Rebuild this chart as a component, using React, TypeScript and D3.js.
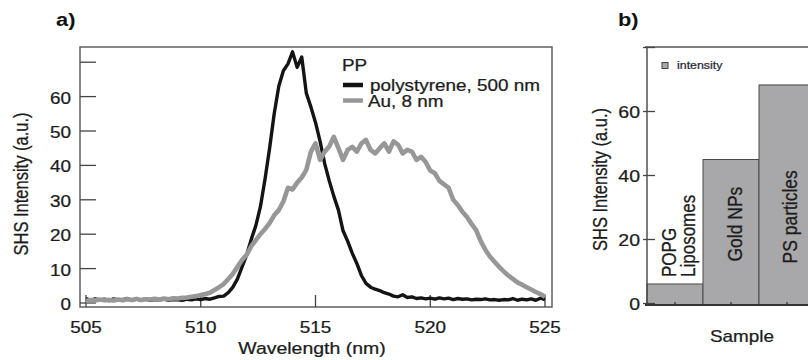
import * as d3 from "d3";

// ---- panel a data: SHS spectra ----
const wavelengths = d3.range(0, 101).map(i => 505 + i * 0.2);

const polystyrene = [
  1.3, 0.8, 1.2, 0.9, 1.1, 0.7, 1.2, 0.9, 1.0, 1.3,
  0.8, 1.1, 0.9, 1.2, 0.8, 1.0, 0.9, 1.1, 0.8, 1.0,
  0.9, 0.8, 1.1, 0.9, 1.2, 1.0, 1.3, 1.1, 1.5, 1.9,
  2.0, 3.0, 4.6, 7.0, 10.5, 14.0, 18.5, 22.5, 28.0, 36.0,
  45.0, 55.0, 63.0, 67.5, 69.5, 73.0, 68.5, 71.5, 61.0, 57.0,
  52.5, 47.0, 40.5, 35.5, 31.0, 27.0, 21.0, 18.0, 14.5, 11.5,
  8.0, 5.7, 4.6, 4.0, 3.6, 3.0, 2.6, 2.0, 1.8, 2.4,
  1.6, 1.8, 1.3, 1.5, 1.2, 1.4, 1.1, 1.5, 1.2, 1.4,
  1.0, 1.3, 1.1, 1.2, 0.9, 1.1, 1.0, 1.2, 0.9, 1.0,
  0.8, 1.0, 0.9, 1.3, 0.8, 1.1, 0.9, 1.2, 0.8, 1.4,
  1.0,
];

const gold = [
  0.6, 0.9, 0.7, 1.0, 0.8, 0.9, 0.7, 1.0, 0.8, 1.1,
  0.9, 1.2, 0.9, 1.1, 1.0, 1.2, 1.0, 1.3, 1.1, 1.4,
  1.3, 1.5, 1.6, 1.8, 2.0, 2.3, 2.6, 3.0, 3.8, 4.6,
  5.5, 7.0, 8.5, 10.5, 12.5, 14.0, 16.5, 18.3, 20.0, 21.5,
  23.2, 25.5, 27.0, 29.5, 33.5, 33.0, 35.0, 36.5, 38.7, 44.0,
  46.4, 41.6, 44.0, 45.5, 48.3, 45.0, 41.6, 44.5, 45.4, 44.0,
  46.4, 47.4, 44.5, 43.5, 45.0, 46.4, 44.0, 47.0, 46.0, 43.5,
  44.5, 44.0, 41.6, 42.5, 41.0, 38.5, 37.7, 35.5, 34.5, 33.5,
  30.0, 28.5, 26.5, 25.0, 23.0, 21.2, 18.0, 15.5, 13.5, 12.0,
  10.5, 9.2, 8.0, 7.0, 6.0, 5.3, 4.6, 3.9, 3.2, 2.6,
  1.8,
];

const legendTitle = "PP";
const legendLabels = ["polystyrene, 500 nm", "Au, 8 nm"];
const xTicksA = [505, 510, 515, 520, 525];
const yTicksA = [0, 10, 20, 30, 40, 50, 60, 70];
const yLabelsA = [0, 10, 20, 30, 40, 50, 60];

// ---- panel b data: intensity per sample ----
const samples = ["POPG Liposomes", "Gold NPs", "PS particles"];
const sampleLines = [["POPG", "Liposomes"], ["Gold NPs"], ["PS particles"]];
const intensity = [6.1, 45, 68.3];
const yTicksB = [0, 20, 40, 60, 80];
const yLabelsB = [0, 20, 40, 60];

const FONT = "'Liberation Sans', Arial, sans-serif";
const SX = 1.18; // the source image is stretched sideways

function T({ x, y, rot = false, anchor = "start", size = 16, weight = "normal", fill = "#1c1c1c", children }: any) {
  return (
    <text
      transform={`translate(${x},${y}) scale(${SX},1)${rot ? " rotate(-90)" : ""}`}
      textAnchor={anchor}
      fontSize={size}
      fontWeight={weight}
      fontFamily={FONT}
      fill={fill}
      stroke={weight === "bold" ? "none" : fill}
      strokeWidth={0.25}
    >
      {children}
    </text>
  );
}

export default function App() {
  // panel a scales
  const xA = d3.scaleLinear().domain([505, 525]).range([86, 545]);
  const yA = d3.scaleLinear().domain([0, 70]).range([303, 62.2]);
  const line = d3.line<number>().x((_, i) => xA(wavelengths[i])).y(d => yA(d));
  const frameA = { left: 80, right: 552, top: 47, bottom: 307 };

  // panel b scales
  const xB = d3.scaleBand().domain(samples).range([647, 815]).padding(0);
  const yB = d3.scaleLinear().domain([0, 80]).range([303.5, 47.5]);
  const bw = xB.bandwidth();

  return (
    <svg
      width={808}
      height={360}
      style={{ position: "absolute", left: 0, top: 0, background: "#fff" }}
    >
      {/* ---------- panel a ---------- */}
      <T x={56} y={25.5} size={18.5} weight="bold" fill="#111">a)</T>

      <rect
        x={frameA.left}
        y={frameA.top}
        width={frameA.right - frameA.left}
        height={frameA.bottom - frameA.top}
        fill="none"
        stroke="#555"
        strokeWidth={1.4}
      />

      {yTicksA.map(t => (
        <line key={t} x1={frameA.left} x2={frameA.left + 16} y1={yA(t)} y2={yA(t)} stroke="#444" strokeWidth={1.3} />
      ))}
      {yLabelsA.map(t => (
        <T key={t} x={71} y={yA(t) + 7} anchor="end">{t}</T>
      ))}

      {xTicksA.map(t => (
        <line key={t} x1={xA(t)} x2={xA(t)} y1={frameA.bottom} y2={frameA.bottom - 12} stroke="#444" strokeWidth={1.3} />
      ))}
      {xTicksA.map(t => (
        <T key={t} x={xA(t)} y={333} anchor="middle">{t}</T>
      ))}

      <path d={line(polystyrene) ?? ""} fill="none" stroke="#141414" strokeWidth={3.4} strokeLinejoin="round" />
      <path d={line(gold) ?? ""} fill="none" stroke="#979797" strokeWidth={4.6} strokeLinejoin="round" />

      <T x={342} y={70.5}>{legendTitle}</T>
      <line x1={343} x2={363} y1={85} y2={85} stroke="#141414" strokeWidth={4.5} />
      <line x1={343} x2={363} y1={100.5} y2={100.5} stroke="#979797" strokeWidth={4.5} />
      <T x={370} y={90.5}>{legendLabels[0]}</T>
      <T x={368} y={107}>{legendLabels[1]}</T>

      <T x={27.5} y={184} rot anchor="middle" size={16.5}>SHS Intensity (a.u.)</T>
      <T x={312} y={354} anchor="middle" size={16.5}>Wavelength (nm)</T>

      {/* ---------- panel b ---------- */}
      <T x={618} y={25.5} size={18.5} weight="bold" fill="#111">b)</T>

      {samples.map((s, i) => (
        <rect
          key={s}
          x={xB(s)}
          y={yB(intensity[i])}
          width={bw}
          height={yB(0) + 1 - yB(intensity[i])}
          fill="#a8a8aa"
          stroke="#4a4a4a"
          strokeWidth={1}
        />
      ))}

      <line x1={645} x2={808} y1={47} y2={47} stroke="#555" strokeWidth={1.4} />
      <line x1={647} x2={647} y1={47} y2={305} stroke="#444" strokeWidth={1.4} />
      <line x1={645} x2={808} y1={305} y2={305} stroke="#333" strokeWidth={2} />

      {yTicksB.map(t => (
        <line key={t} x1={643} x2={655} y1={yB(t)} y2={yB(t)} stroke="#444" strokeWidth={1.3} />
      ))}
      {yLabelsB.map(t => (
        <T key={t} x={640} y={yB(t) + 6} anchor="end" size={16.5}>{t}</T>
      ))}
      {samples.map(s => (
        <line key={s} x1={(xB(s) ?? 0) + bw / 2} x2={(xB(s) ?? 0) + bw / 2} y1={302} y2={305} stroke="#333" strokeWidth={1.3} />
      ))}

      {/* rotated sample names */}
      <T x={(xB(samples[0]) ?? 0) + bw / 2 + 0.5} y={yB(intensity[0]) - 7} rot size={17}>{sampleLines[0][0]}</T>
      <T x={(xB(samples[0]) ?? 0) + bw / 2 + 20} y={yB(intensity[0]) - 7} rot size={17}>{sampleLines[0][1]}</T>
      <T x={(xB(samples[1]) ?? 0) + bw / 2 + 10.5} y={yB(0) - 42} rot size={17.5}>{sampleLines[1][0]}</T>
      <T x={(xB(samples[2]) ?? 0) + bw / 2 + 9.5} y={yB(0) - 40} rot size={17.5}>{sampleLines[2][0]}</T>

      <rect x={662} y={62.5} width={6} height={6} fill="#a8a8aa" stroke="#444" strokeWidth={1} />
      <T x={677} y={68.5} size={10.5} fill="#2a2a3a">intensity</T>

      <T x={607} y={179.5} rot anchor="middle" size={16.5}>SHS Intensity (a.u.)</T>
      <T x={742} y={341.5} anchor="middle">Sample</T>
    </svg>
  );
}
